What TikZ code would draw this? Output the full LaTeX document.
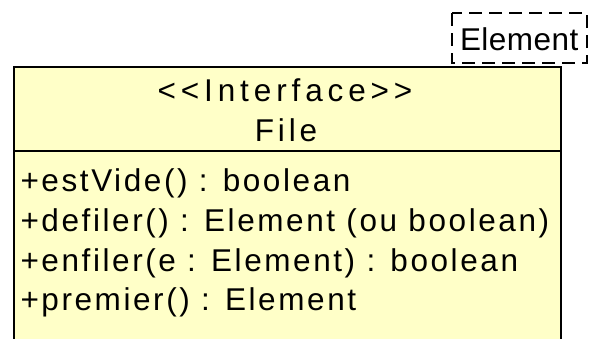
\documentclass[tikz,border=0pt]{standalone}
\usepackage{fontspec}
\setmainfont{Liberation Sans}
% tracked variants of the same face
\newfontfamily\bodyfont[LetterSpace=8.2]{Liberation Sans}
\newfontfamily\stereofont[LetterSpace=15.5]{Liberation Sans}
\newfontfamily\namefont[LetterSpace=12]{Liberation Sans}
\newfontfamily\tagfont[LetterSpace=1.5]{Liberation Sans}
\definecolor{umlfill}{RGB}{255,255,200}

\begin{document}
\begin{tikzpicture}[x=1bp,y=-1bp,
  txt/.style={inner sep=0pt, outer sep=0pt, font=\fontsize{31.5bp}{40bp}\selectfont},
  member/.style={txt, anchor=base west, font=\fontsize{31.5bp}{40bp}\bodyfont},
  headline/.style={txt, anchor=base},
  frame/.style={line width=2bp, draw=black},
  tagbox/.style={line width=2bp, draw=black, dash pattern=on 13bp off 7bp}]
\useasboundingbox (0,0) rectangle (596,338);
\clip (0,0) rectangle (596,338);

% interface box (continues below the lower edge)
\fill[umlfill] (13.5,67) rectangle (561,345);
\draw[frame] (13.5,345) -- (13.5,67) -- (561,67) -- (561,345);
\draw[frame] (13.5,151) -- (561,151);

% header
\node[headline, font=\fontsize{31.5bp}{40bp}\stereofont] (stereo) at (285,101.5) {<{}<Interface>{}>};
\node[headline, font=\fontsize{31.5bp}{40bp}\namefont] (name) at (286,141.5) {File};

% operations
\node[member] (op1) at (20.5,191) {+estVide() : boolean};
\node[member] (op2) at (20.5,231) {+defiler() : Element (ou boolean)};
\node[member] (op3) at (20.5,271) {+enfiler(e : Element) : boolean};
\node[member] (op4) at (20.5,310.5) {+premier() : Element};

% template parameter box
\draw[tagbox] (452,13) rectangle (587,63);
\node[txt, anchor=base west, font=\fontsize{31.5bp}{40bp}\tagfont] (param) at (460,50.5) {Element};
\end{tikzpicture}
\end{document}
